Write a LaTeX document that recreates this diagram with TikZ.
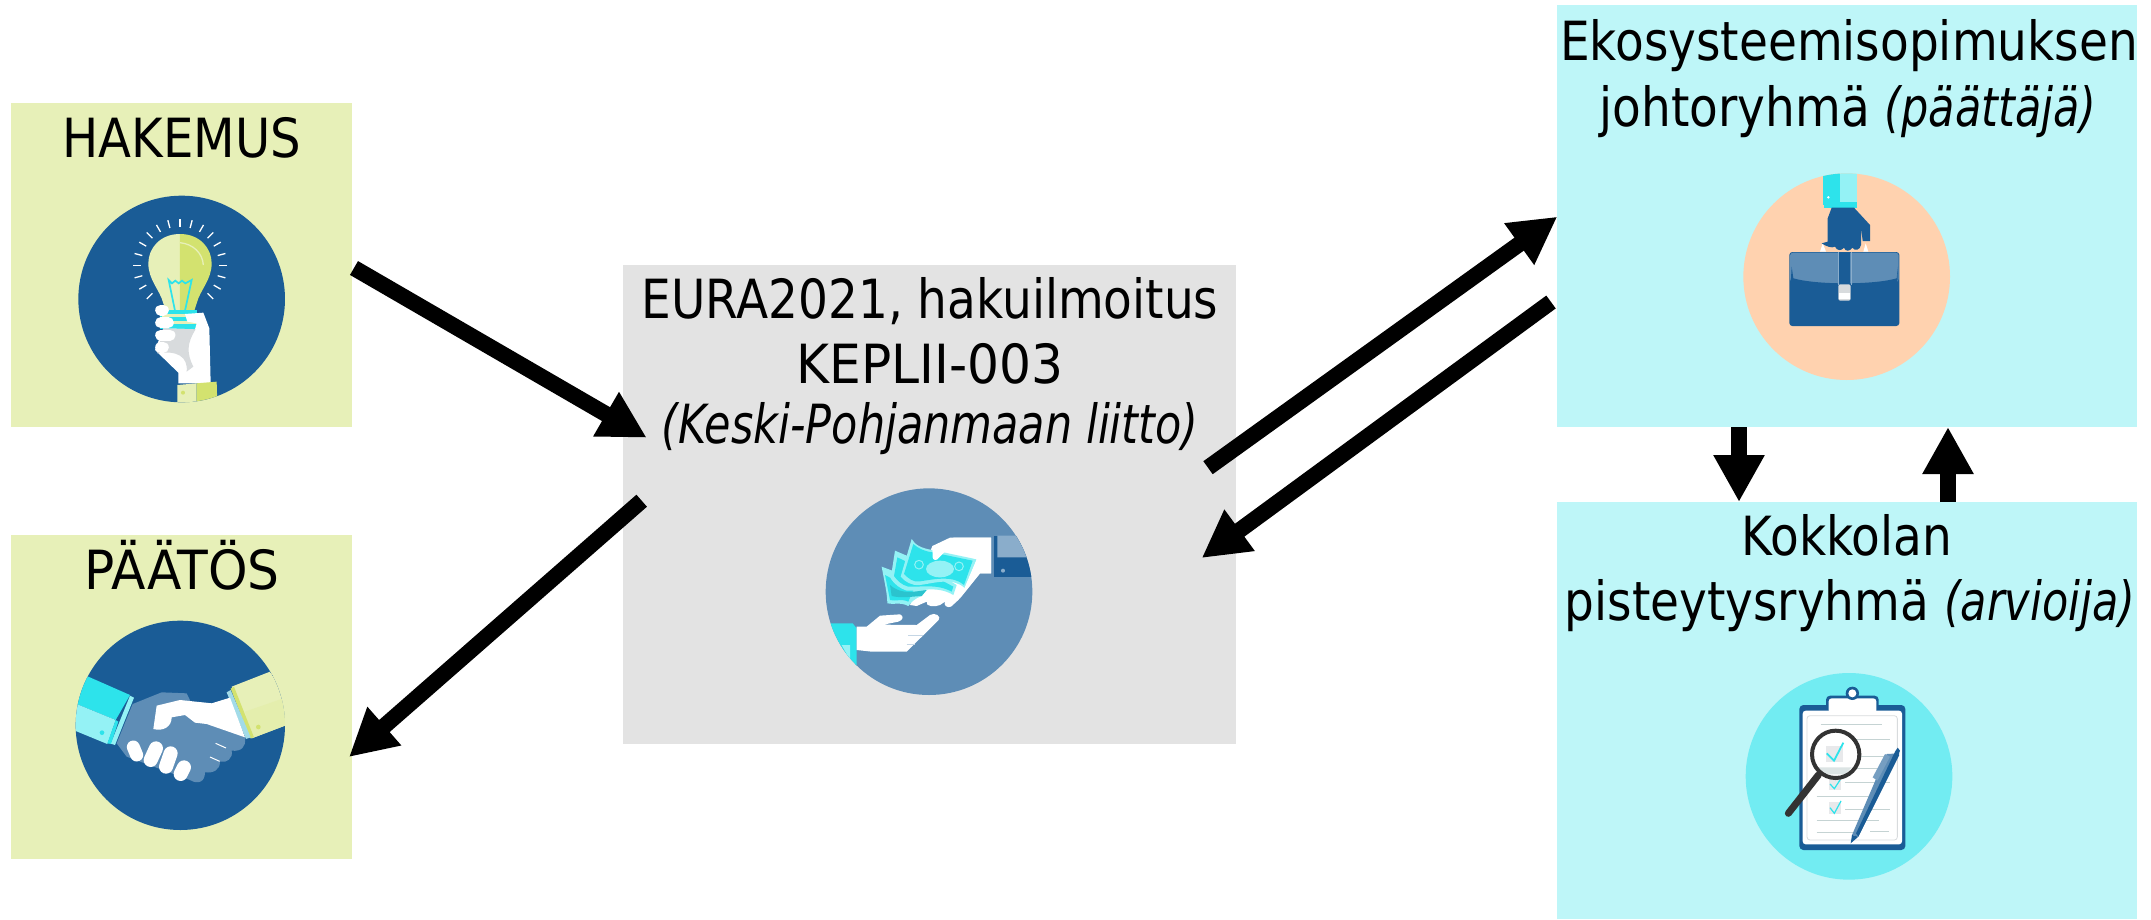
\documentclass[tikz,border=0pt]{standalone}
\usepackage{fontspec}
\setmainfont[FakeStretch=0.87,ItalicFeatures={FakeStretch=0.795}]{DejaVu Sans}
\usetikzlibrary{arrows.meta}
\definecolor{cgreen}{HTML}{E7F0B8}
\definecolor{cgrey}{HTML}{E3E3E3}
\definecolor{ccyan}{HTML}{BEF6F8}
\definecolor{dblue}{HTML}{1A5C96}
\definecolor{mblue}{HTML}{5E8DB6}
\definecolor{lblue}{HTML}{8AADCB}
\definecolor{ylw}{HTML}{D3E26F}
\definecolor{cy}{HTML}{2DE3EB}
\definecolor{lcy}{HTML}{94F2F5}
\definecolor{teal}{HTML}{2BC3CE}
\definecolor{peach}{HTML}{FFD2AF}
\definecolor{tcy}{HTML}{72ECF2}
\definecolor{sgrey}{HTML}{D8DBDD}
\definecolor{lineg}{HTML}{C5D3D3}
\tikzset{
  panel/.style={anchor=north west,inner sep=0pt,outer sep=0pt,draw=none},
  lbl/.style={anchor=base,inner sep=0pt,outer sep=0pt,text=black,font=\fontsize{54}{60}\selectfont},
  bigarrow/.style={line width=16pt,black,-{Triangle[length=47pt,width=48pt]}},
  icon/.style={x=0.33333pt,y=-0.33333pt},
  fing/.style={line cap=round,white},
}
\begin{document}
\begin{tikzpicture}[x=1pt,y=-1pt]
\fill[white] (0,0) rectangle (2151,919);
\useasboundingbox (0,0) rectangle (2151,919);
% panels
\node[panel,fill=cgreen,minimum width=341pt,minimum height=324pt] (hak) at (11,103) {};
\node[panel,fill=cgreen,minimum width=341pt,minimum height=324pt] (pae) at (11,535) {};
\node[panel,fill=cgrey,minimum width=613pt,minimum height=479pt] (eura) at (623,265) {};
\node[panel,fill=ccyan,minimum width=580pt,minimum height=422pt] (eko) at (1557,5) {};
\node[panel,fill=ccyan,minimum width=580pt,minimum height=417pt] (kok) at (1557,502) {};
% labels
\node[lbl,xscale=1.025] (t1) at (182,157) {HAKEMUS};
\node[lbl,xscale=1.07] (t2) at (182,589) {PÄÄTÖS};
\node[lbl] (t3) at (930,318) {EURA2021, hakuilmoitus};
\node[lbl,xscale=1.07] (t4) at (930,383) {KEPLII-003};
\node[lbl] (t5) at (930,443) {\textit{(Keski-Pohjanmaan liitto)}};
\node[lbl] (t6) at (1849,60) {Ekosysteemisopimuksen};
\node[lbl] (t7) at (1848,126) {johtoryhmä \textit{(päättäjä)}};
\node[lbl] (t8) at (1847,555) {Kokkolan};
\node[lbl] (t9) at (1850,620) {pisteytysryhmä \textit{(arvioija)}};
% ---- bulb icon
\begin{scope}[shift={(0,90)},icon]
\fill[dblue] (545,627) circle [radius=310];
\begin{scope}
\clip (545,627) circle [radius=310];
\fill[cgreen] (540,432) .. controls (480,432) and (445,475) .. (445,520) .. controls (445,570) and (480,600) .. (490,640) -- (500,665) -- (540,665) -- cycle;
\fill[ylw] (540,432) .. controls (600,432) and (635,475) .. (635,520) .. controls (635,570) and (600,600) .. (590,640) -- (582,665) -- (540,665) -- cycle;
\draw[cgreen,line width=1.3pt] (540,458) .. controls (580,462) and (608,490) .. (610,525);
\foreach \a in {-45,-30,-15,0,15,30,45,60,75,90,105,120,135,150,165,180,195,210,225}
  \draw[white,line width=1.3pt] ({540+117*cos(\a)},{527-117*sin(\a)}) -- ({540+141*cos(\a)},{527-141*sin(\a)});
\draw[cy,line width=1.7pt] (525,662) -- (506,570) -- (516,580) -- (526,572) -- (536,580) -- (546,572) -- (556,580) -- (575,570) -- (555,662);
\fill[cy] (480,660) rectangle (592,718);
\fill[cgreen] (485,672) rectangle (590,680);
\fill[cgreen] (485,692) rectangle (590,702);
\fill[white] (555,672) -- (610,668) -- (628,715) -- (632,880) -- (535,880) -- (535,848) -- (465,780) -- (490,715) -- (585,718) -- (590,700) -- (562,695) -- cycle;
\fill[sgrey] (490,715) -- (587,718) .. controls (560,760) and (560,790) .. (580,830) -- (560,845) .. controls (565,800) and (530,780) .. (472,790) -- cycle;
\draw[fing,line width=11pt] (482,660) -- (490,660);
\draw[fing,line width=11pt] (482,698) -- (505,698);
\draw[fing,line width=11pt] (482,735) -- (510,735);
\draw[fing,line width=11pt] (482,772) -- (490,772);
\fill[cgreen] (532,885) -- (590,880) -- (590,945) -- (532,945) -- cycle;
\fill[ylw] (590,880) -- (650,875) -- (652,945) -- (590,945) -- cycle;
\fill[ylw] (549,908) circle [radius=6];
\end{scope}
\end{scope}
% ---- handshake icon
\begin{scope}[shift={(0,530)},icon]
\fill[dblue] (541,586) circle [radius=314];
\begin{scope}
\clip (541,586) circle [radius=314];
\fill[cy] (265,440) -- (390,495) -- (347,570) -- (225,520) -- (225,430) -- cycle;
\fill[lcy] (225,520) -- (347,570) -- (322,642) -- (220,600) -- cycle;
\fill[cy] (306,608) circle [radius=7];
\fill[lcy] (390,497) -- (402,503) -- (345,645) -- (332,641) -- cycle;
\fill[cy] (347,570) -- (355,575) -- (333,642) -- (322,640) -- cycle;
\fill[mblue] (398,522) -- (485,487) -- (560,490) -- (572,515) -- (640,520) -- (690,505) -- (735,625) .. controls (738,650) and (725,665) .. (695,662) .. controls (700,685) and (680,700) .. (660,695) .. controls (660,720) and (640,730) .. (615,727) .. controls (615,755) and (595,765) .. (570,750) -- (380,680) -- (350,640) -- cycle;
\fill[cgreen] (695,470) -- (810,425) -- (860,500) -- (860,585) -- (755,625) -- cycle;
\fill[cgreen!85!ylw] (735,545) -- (850,505) -- (860,585) -- (755,625) -- cycle;
\fill[ylw] (775,591) circle [radius=7];
\fill[ylw] (692,476) -- (702,470) -- (762,622) -- (750,625) -- cycle;
\fill[lblue!60!cy!60!white] (680,487) -- (692,480) -- (752,622) -- (738,627) -- cycle;
\fill[white] (470,527) -- (540,510) -- (635,520) -- (690,503) -- (735,622) -- (620,582) -- (585,578) -- (555,555) -- (515,562) .. controls (515,590) and (490,605) .. (460,597) -- cycle;
\draw[fing,line width=13pt] (400,651) -- (410,675);
\draw[fing,line width=14pt] (468,655) -- (452,690);
\draw[fing,line width=14pt] (512,670) -- (498,710);
\draw[fing,line width=14pt] (552,712) -- (542,732);
\draw[white,line width=1pt] (647,640) -- (678,654);
\draw[white,line width=1pt] (630,681) -- (659,694);
\end{scope}
\end{scope}
% ---- money icon
\begin{scope}[shift={(780,470)},icon]
\fill[mblue] (447,365) circle [radius=310];
\begin{scope}
\clip (447,365) circle [radius=310];
\fill[dblue] (643,197) rectangle (770,322);
\fill[lblue] (652,197) -- (712,197) -- (760,262) -- (652,262) -- cycle;
\fill[lblue] (669,302) circle [radius=6];
\fill[white] (457,228) -- (510,203) -- (633,203) -- (633,310) -- (600,310) -- (535,390) -- (513,410) .. controls (500,415) and (490,405) .. (495,395) -- (480,405) .. controls (465,412) and (435,410) .. (440,395) -- (410,408) -- (390,405) -- cycle;
% back bill
\fill[lcy] (305,290) -- (345,305) -- (440,360) -- (425,378) .. controls (405,385) and (395,395) .. (385,408) .. controls (360,395) and (340,405) .. (322,400) .. controls (322,370) and (312,330) .. (305,290) -- cycle;
\fill[cy] (315,315) -- (400,360) -- (385,395) .. controls (365,385) and (345,395) .. (330,390) -- cycle;
\fill[teal] (330,345) .. controls (365,375) and (400,365) .. (440,360) -- (425,378) .. controls (390,380) and (365,385) .. (335,378) -- cycle;
% middle bill
\fill[lcy] (345,242) -- (392,262) -- (530,345) -- (520,375) .. controls (470,345) and (420,365) .. (380,362) .. controls (360,355) and (345,345) .. (332,325) -- cycle;
\fill[cy] (352,262) -- (400,285) -- (520,350) -- (515,365) .. controls (470,340) and (420,352) .. (385,350) .. controls (365,345) and (350,330) .. (342,318) -- cycle;
% front bill
\fill[lcy] (395,207) .. controls (405,225) and (425,235) .. (457,240) -- (590,268) -- (555,355) .. controls (520,320) and (460,340) .. (420,345) .. controls (395,348) and (375,335) .. (362,320) -- cycle;
\fill[cy] (400,222) .. controls (415,235) and (430,243) .. (457,247) -- (578,272) -- (552,345) .. controls (520,315) and (460,328) .. (420,334) .. controls (400,338) and (385,325) .. (372,312) -- cycle;
\fill[lcy] (480,297) ellipse [x radius=42,y radius=25];
\draw[lcy,line width=1pt] (417,284) circle [radius=13];
\draw[lcy,line width=1pt] (537,289) circle [radius=13];
\fill[white] (457,228) -- (520,228) -- (495,245) -- (478,262) .. controls (470,275) and (458,270) .. (458,262) -- cycle;
\fill[white] (520,203) -- (633,203) -- (633,310) -- (600,310) -- (540,385) -- (555,350) -- (590,268) -- (510,240) -- cycle;
\fill[cy] (152,460) -- (218,460) -- (230,475) -- (230,600) -- (150,600) -- cycle;
\fill[lcy] (185,525) -- (210,525) -- (210,570) -- cycle;
\fill[white] (230,470) -- (260,470) -- (300,437) -- (360,433) .. controls (372,438) and (370,450) .. (355,455) -- (310,464) -- (410,465) -- (450,435) .. controls (465,425) and (485,440) .. (476,450) -- (380,545) -- (275,545) -- (230,540) -- cycle;
\draw[lblue!50!white,line width=0.7pt] (385,497) -- (430,497);
\draw[lblue!50!white,line width=0.7pt] (380,522) -- (405,522);
\end{scope}
\end{scope}
% ---- briefcase icon
\begin{scope}[shift={(1700,150)},icon]
\fill[peach] (440,380) circle [radius=310];
\begin{scope}
\clip (440,380) circle [radius=310];
\fill[cy] (370,60) rectangle (420,165);
\fill[lcy] (420,60) rectangle (470,155);
\fill[cy] (372,155) rectangle (470,173);
\fill[white] (385,142) circle [radius=4];
\fill[white] (360,305) -- (368,280) -- (378,305) -- cycle;
\fill[white] (490,305) -- (497,280) -- (505,305) -- cycle;
\fill[dblue] (395,173) -- (462,173) -- (510,225) -- (510,273) -- (488,273) -- (483,232) -- (483,285) .. controls (480,300) and (465,305) .. (457,293) .. controls (450,305) and (435,305) .. (432,293) .. controls (425,303) and (410,303) .. (405,290) .. controls (395,295) and (380,290) .. (365,280) -- (383,275) -- (383,205) -- cycle;
\fill[dblue,rounded corners=3pt] (268,306) rectangle (598,528);
\fill[mblue,rounded corners=3pt] (270,308) -- (596,308) -- (596,395) .. controls (520,415) and (350,415) .. (270,395) -- cycle;
\fill[dblue] (275,350) -- (280,385) .. controls (350,405) and (520,405) .. (590,385) -- (594,350) -- (592,400) .. controls (520,422) and (350,422) .. (272,400) -- cycle;
\fill[dblue] (418,306) rectangle (450,415);
\draw[lblue,line width=0.8pt] (414,306) -- (414,405);
\draw[lblue,line width=0.8pt] (453,306) -- (453,405);
\fill[sgrey,rounded corners=2pt] (415,403) rectangle (452,452);
\fill[white] (417,428) rectangle (450,448);
\end{scope}
\end{scope}
% ---- checklist icon
\begin{scope}[shift={(1720,660)},icon]
\fill[tcy] (387,349) circle [radius=310];
\fill[dblue,rounded corners=4pt] (238,135) rectangle (556,570);
\fill[dblue,rounded corners=4pt] (318,107) rectangle (476,160);
\fill[white,rounded corners=3pt] (248,152) rectangle (546,553);
\fill[white,rounded corners=3pt] (326,115) rectangle (469,160);
\fill[dblue] (397,100) circle [radius=20];
\fill[white] (397,100) circle [radius=12];
\draw[sgrey,line width=0.8pt,rounded corners=3pt] (261,167) rectangle (532,540);
\foreach \xa/\xb/\yy in {302/486/194,372/511/238,382/511/290,290/472/326,375/511/367,290/472/410,375/511/447,290/478/482,290/400/518}
  \draw[lineg,line width=1pt] (\xa,\yy) -- (\xb,\yy);
\draw[lineg,line width=1.5pt] (450,515) -- (508,515);
% small check boxes
\fill[sgrey!60!white] (327,356) rectangle (362,390);
\fill[sgrey!60!white] (327,427) rectangle (362,463);
\draw[cy,line width=1.2pt] (330,372) -- (343,386) -- (360,360);
\draw[cy,line width=1.2pt] (330,443) -- (343,460) -- (363,423);
% magnifier
\fill[white] (347,283) circle [radius=70];
\fill[sgrey!60!white] (317,257) rectangle (368,307);
\draw[cy,line width=1.8pt] (320,280) -- (342,302) -- (370,248);
\fill[lineg!60!white] (295,322) -- (395,322) -- (375,343) -- (315,343) -- cycle;
\draw[black!80,line width=4pt] (347,283) circle [radius=71];
\draw[black!80,line width=7pt,line cap=round] (295,345) -- (205,460);
% pen
\fill[mblue] (396,525) -- (500,282) -- (538,280) -- (415,530) -- cycle;
\fill[dblue] (415,530) -- (538,285) -- (525,275) -- (408,520) -- cycle;
\fill[mblue!85!white] (458,352) -- (495,282) -- (510,290) -- (472,362) -- cycle;
\fill[dblue] (525,275) -- (533,263) -- (540,272) -- (535,285) -- cycle;
\fill[dblue] (392,550) -- (396,525) -- (415,530) -- cycle;
\end{scope}
% connectors
\coordinate (a1s) at (354,268); \coordinate (a1e) at (646.7,437.7);
\coordinate (a2s) at (641.7,500.7); \coordinate (a2e) at (349,757);
\coordinate (a3s) at (1208,467.7); \coordinate (a3e) at (1557.3,216.7);
\coordinate (a4s) at (1551,302); \coordinate (a4e) at (1201.7,558);
\coordinate (a5s) at (1739,427); \coordinate (a5e) at (1739,502);
\coordinate (a6s) at (1948,502); \coordinate (a6e) at (1948,427);
\draw[bigarrow] (a1s) -- (a1e);
\draw[bigarrow] (a2s) -- (a2e);
\draw[bigarrow] (a3s) -- (a3e);
\draw[bigarrow] (a4s) -- (a4e);
\draw[bigarrow] (a5s) -- (a5e);
\draw[bigarrow] (a6s) -- (a6e);
\end{tikzpicture}
\end{document}
